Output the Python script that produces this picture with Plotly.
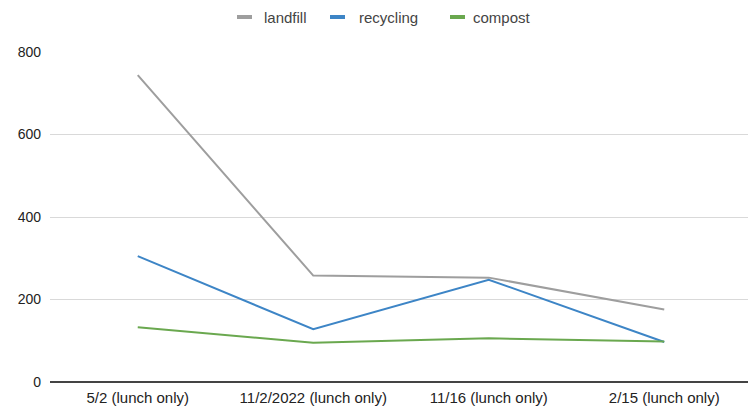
import plotly.graph_objects as go

categories = ["5/2 (lunch only)", "11/2/2022 (lunch only)", "11/16 (lunch only)", "2/15 (lunch only)"]
landfill = [744, 258, 253, 176]
recycling = [305, 128, 248, 97]
compost = [133, 95, 106, 98]
series_names = ["landfill", "recycling", "compost"]
colors = ["#9e9e9e", "#3d85c6", "#6aa84f"]
y_ticks = [0, 200, 400, 600, 800]

# page has an 8px body margin; compensate so the plot sits where the reference has it
OFF = 8
PAGE_W, PAGE_H = 756, 406
W, H = PAGE_W - OFF, PAGE_H - OFF
L, R, T, B = 50 - OFF, 4, 52 - OFF, 24
pw = W - L - R
ph = H - T - B

fig = go.Figure()
for name, vals, c in zip(series_names, [landfill, recycling, compost], colors):
    fig.add_trace(go.Scatter(x=categories, y=vals, mode="lines", name=name,
                             line=dict(color=c, width=2), showlegend=False))

# custom legend (page pixel positions of symbol start, text start)
legend_items = [(237, 262), (330, 357), (450, 471)]
shapes = []
annotations = []
ly = 17
for (sx, tx), name, c in zip(legend_items, series_names, colors):
    yp = (PAGE_H - B - ly) / ph
    shapes.append(dict(type="line", xref="paper", yref="paper",
                       x0=(sx - 50) / pw, x1=(sx + 15 - 50) / pw, y0=yp, y1=yp,
                       line=dict(color=c, width=4)))
    annotations.append(dict(xref="paper", yref="paper", x=(tx - 50) / pw, y=yp,
                            text=name, showarrow=False, xanchor="left", yanchor="middle",
                            font=dict(family="Liberation Sans, Arial", size=15, color="#444")))

fig.update_layout(
    width=W, height=H,
    margin=dict(l=L, r=R, t=T, b=B, autoexpand=False),
    plot_bgcolor="white", paper_bgcolor="white",
    font=dict(family="Liberation Sans, Arial", size=14, color="#222"),
    shapes=shapes, annotations=annotations,
    xaxis=dict(type="category", range=[-0.5, 3.5], showgrid=False, showline=False, ticks="",
               automargin=False, ticklabelstandoff=5, tickfont=dict(size=15, color="#222")),
    yaxis=dict(range=[0, 800], tickvals=y_ticks, showgrid=True, gridcolor="#d9d9d9",
               gridwidth=1, zeroline=True, zerolinecolor="#444", zerolinewidth=2,
               ticks="", automargin=False, ticklabelstandoff=8,
               tickfont=dict(size=14, color="#222")),
    showlegend=False,
)
fig.write_html("out.html")
